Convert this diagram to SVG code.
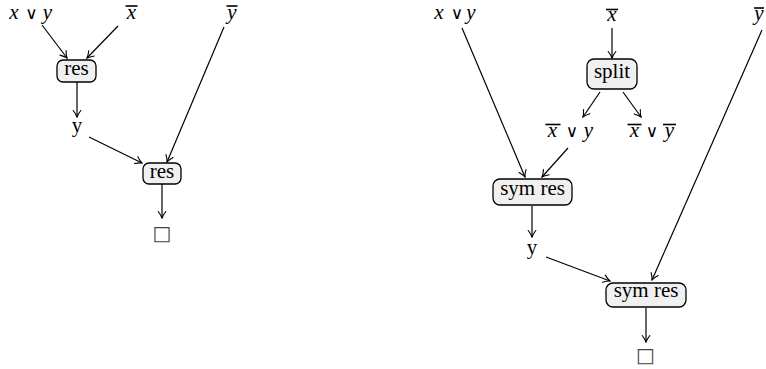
<svg xmlns="http://www.w3.org/2000/svg" width="766" height="369" viewBox="0 0 766 369">
<defs>
<style>
text{font-family:"Liberation Serif","DejaVu Serif",serif;font-size:21px;fill:#000;text-anchor:middle}
.it{font-style:italic}
.op{font-family:"DejaVu Sans","Liberation Serif",sans-serif;font-size:17px}
.box{fill:#f0f0f0;stroke:#000;stroke-width:1.3}
.bar{stroke:#000;stroke-width:1.6}
.edge{stroke:#000;stroke-width:1.2;fill:none;marker-end:url(#ah)}
.qed{font-family:"DejaVu Sans",sans-serif;font-size:20px;fill:#444}
</style>
<marker id="ah" markerUnits="userSpaceOnUse" viewBox="-8 -5 9 10" refX="0" refY="0" markerWidth="9" markerHeight="10" orient="auto">
<path d="M-6.5,-3.8 Q-2.5,-0.8 0,0 Q-2.5,0.8 -6.5,3.8" fill="none" stroke="#000" stroke-width="1.1" stroke-linecap="round"/>
</marker>
</defs>

<g id="connectors">
<line class="edge" x1="42" y1="25" x2="67" y2="58"/>
<line class="edge" x1="118" y1="26" x2="87" y2="58"/>
<line class="edge" x1="77" y1="82" x2="77" y2="117"/>
<line class="edge" x1="89" y1="137" x2="142" y2="163"/>
<line class="edge" x1="224" y1="27" x2="167" y2="162"/>
<line class="edge" x1="162" y1="184" x2="162" y2="218"/>

<line class="edge" x1="612" y1="28" x2="612" y2="58"/>
<line class="edge" x1="600" y1="92" x2="583" y2="117"/>
<line class="edge" x1="623" y1="92" x2="641" y2="117"/>
<line class="edge" x1="462" y1="28" x2="525" y2="177"/>
<line class="edge" x1="568" y1="148" x2="542" y2="177"/>
<line class="edge" x1="532" y1="206" x2="532" y2="237"/>
<line class="edge" x1="546" y1="257" x2="610" y2="281"/>
<line class="edge" x1="762" y1="30" x2="652" y2="280"/>
<line class="edge" x1="646" y1="308" x2="646" y2="342"/>
</g>

<!-- left diagram -->
<g id="L-xory">
<text y="19"><tspan class="it" x="14">x</tspan><tspan class="op" x="31.5">∨</tspan><tspan class="it" x="47.5">y</tspan></text>
</g>
<g id="L-xbar">
<text class="it" x="131.5" y="19">x</text>
<line class="bar" x1="125.5" y1="6" x2="137.5" y2="6"/>
</g>
<g id="L-ybar">
<text class="it" x="232" y="19">y</text>
<line class="bar" x1="226.5" y1="6" x2="237.5" y2="6"/>
</g>
<g id="L-res1">
<rect class="box" x="57" y="60" width="39" height="22" rx="6"/>
<text x="76.5" y="75">res</text>
</g>
<g id="L-y">
<text x="77" y="132">y</text>
</g>
<g id="L-res2">
<rect class="box" x="143" y="163" width="38" height="21" rx="6"/>
<text x="162" y="178">res</text>
</g>
<g id="L-box">
<text class="qed" x="162" y="240">□</text>
</g>

<!-- right diagram -->
<g id="R-xory">
<text y="19"><tspan class="it" x="439">x</tspan><tspan class="op" x="457">∨</tspan><tspan class="it" x="471">y</tspan></text>
</g>
<g id="R-xbar">
<text class="it" x="612" y="20.5">x</text>
<line class="bar" x1="606" y1="9.5" x2="618" y2="9.5"/>
</g>
<g id="R-ybar">
<text class="it" x="759" y="20">y</text>
<line class="bar" x1="754" y1="8" x2="764" y2="8"/>
</g>
<g id="R-split">
<rect class="box" x="587" y="59" width="50" height="30" rx="7"/>
<text x="612" y="78">split</text>
</g>
<g id="R-xbarory">
<text y="136.5"><tspan class="it" x="552.5">x</tspan><tspan class="op" x="572">∨</tspan><tspan class="it" x="588.5">y</tspan></text>
<line class="bar" x1="545.5" y1="124.5" x2="560.5" y2="124.5"/>
</g>
<g id="R-xbarorybar">
<text y="136.5"><tspan class="it" x="634.5">x</tspan><tspan class="op" x="652">∨</tspan><tspan class="it" x="669.5">y</tspan></text>
<line class="bar" x1="627.5" y1="124.5" x2="641.5" y2="124.5"/>
<line class="bar" x1="663" y1="124.5" x2="676" y2="124.5"/>
</g>
<g id="R-symres1">
<rect class="box" x="493" y="179" width="79" height="26" rx="7"/>
<text x="532.5" y="195">sym res</text>
</g>
<g id="R-y">
<text x="532" y="254">y</text>
</g>
<g id="R-symres2">
<rect class="box" x="606" y="283" width="80" height="24" rx="7"/>
<text x="646" y="297">sym res</text>
</g>
<g id="R-box">
<text class="qed" x="645.5" y="362">□</text>
</g>
</svg>
